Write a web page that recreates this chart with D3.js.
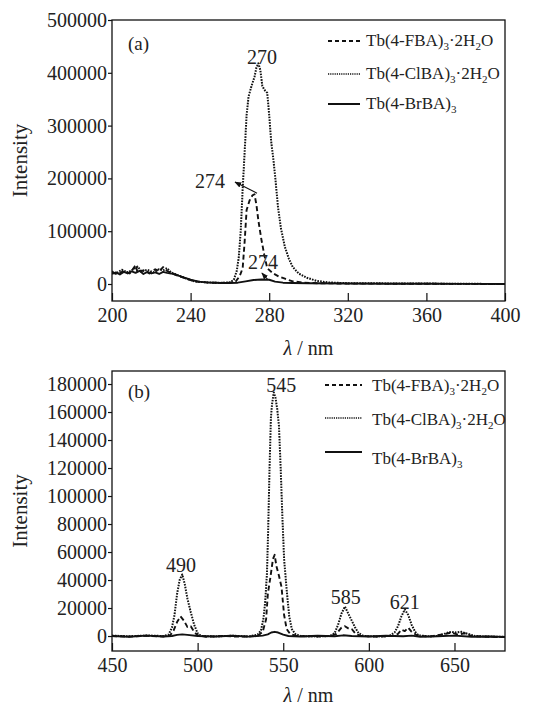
<!DOCTYPE html>
<html>
<head>
<meta charset="UTF-8">
<script src="https://d3js.org/d3.v7.min.js"></script>
<style>
  body { margin: 0; background: #fff; }
  svg text { font-family: "Liberation Serif", "Times New Roman", serif; fill: #222; }
</style>
</head>
<body>
<svg id="chart" width="535" height="706"></svg>
<script>
// ---------- data ----------
// panel (a): excitation spectra, [wavelength nm, intensity]
const aFBA = [[200,22000],[203,18000],[206,25000],[209,20000],[211,30000],[212,36000],[213,22000],[216,26000],[219,20000],[222,28000],[224,24000],[226,32000],[228,25000],[230,21000],[234,15000],[238,10000],[242,5000],[248,3000],[255,2000],[260,2500],[263,5000],[265,15000],[266.5,30000],[267.5,80000],[268.5,140000],[270,158000],[271.5,168000],[272.5,170000],[273.5,150000],[274.5,120000],[276,85000],[277.5,55000],[279,30000],[282,20000],[285,14000],[288,10000],[292,5000],[298,2500],[305,1500],[320,800],[360,400],[400,0]];
const aClBA = [[200,24000],[202,20000],[205,27000],[208,22000],[211,28000],[213,33000],[215,24000],[218,27000],[221,22000],[224,28000],[226,26000],[228,30000],[230,22000],[234,16000],[238,10000],[242,5000],[248,3000],[255,2000],[260,3000],[262,8000],[263.5,25000],[264.5,50000],[265.5,100000],[266.5,180000],[267.5,250000],[268.5,320000],[269.5,355000],[271,375000],[272.5,392000],[273.5,410000],[274.5,418000],[275.5,405000],[276.5,375000],[277.5,368000],[279,362000],[280,320000],[281,270000],[282,240000],[283,205000],[284.5,145000],[286,105000],[288,70000],[290,48000],[292,32000],[295,20000],[299,12000],[304,6000],[310,3000],[320,1500],[360,800],[400,0]];
const aBrBA = [[200,19000],[202,22000],[204,18000],[206,23000],[208,20000],[210,24000],[212,21000],[214,25000],[216,19000],[218,23000],[220,20000],[222,22000],[224,19000],[226,23000],[228,21000],[230,20000],[233,17000],[236,13000],[240,8000],[244,4500],[248,3000],[252,2500],[256,2000],[260,2000],[264,2500],[268,5000],[272,7500],[276,8500],[280,8000],[283,4500],[287,2500],[292,2000],[300,1500],[320,1000],[340,500],[360,500],[380,300],[400,0]];

// panel (b): emission spectra
const bFBA = [[450,0],[460,-400],[470,200],[480,-300],[484,500],[486,4000],[488,10000],[490,14000],[492,11000],[494,6500],[496,7000],[498,3000],[500,500],[505,-500],[515,0],[525,-500],[535,0],[538,3000],[540,12000],[541,30000],[542.5,42000],[544,55000],[545,58000],[546,50000],[547.5,43000],[549,35000],[550.5,15000],[552,5000],[554,1500],[558,0],[570,-300],[578,0],[581,1500],[584,6000],[586,7000],[588,5500],[590,5000],[592,2000],[595,0],[605,-400],[614,0],[617,1500],[619,4500],[621,3500],[623,6000],[625,3000],[628,500],[635,-500],[645,1500],[648,2500],[652,1000],[656,2000],[660,0],[670,-500],[680,-800]];
const bClBA = [[450,300],[460,-200],[470,400],[480,0],[483,1000],[485,6000],[486.5,15000],[488,30000],[489.5,40000],[491,44000],[492.5,37000],[494,27000],[496,17000],[498,8000],[500,2000],[502,0],[510,-300],[520,200],[530,-300],[535,1000],[537,4000],[538.5,13000],[539.5,25000],[540.5,45000],[541.2,76000],[542,120000],[542.8,156000],[543.5,166000],[544.5,174000],[545.5,170000],[546.5,162000],[547.5,150000],[548.5,120000],[549.5,85000],[550.5,55000],[552,33000],[553.5,14000],[555,5000],[557,1500],[560,0],[570,-300],[577,0],[580,2000],[582,8000],[584,16000],[586,21000],[588,16000],[590,11000],[592,6000],[594,2000],[597,0],[605,-300],[612,0],[615,2500],[617,7000],[619,14000],[621,19000],[623,15000],[625,8000],[627,3000],[629,500],[635,-200],[640,0],[645,2000],[648,3000],[651,2500],[654,3000],[658,1500],[662,0],[670,-400],[680,-500]];
const bBrBA = [[450,0],[460,-500],[470,300],[480,-300],[485,0],[488,800],[491,1200],[494,800],[500,0],[510,-300],[520,200],[530,-400],[538,300],[541,1200],[543,2500],[545,3000],[547,2500],[550,1000],[553,0],[560,-300],[570,200],[580,-200],[585,500],[590,0],[600,-300],[610,200],[620,-200],[625,300],[630,-500],[640,-200],[650,300],[660,-500],[670,-300],[680,-600]];

const aXTicks = [200, 240, 280, 320, 360, 400];
const aYTicks = [0, 100000, 200000, 300000, 400000, 500000];
const bXTicks = [450, 500, 550, 600, 650];
const bYTicks = [0, 20000, 40000, 60000, 80000, 100000, 120000, 140000, 160000, 180000];

// legend names split into [text, isSubscript]
const legendNames = [
  [["Tb(4-FBA)", false], ["3", true], ["·2H", false], ["2", true], ["O", false]],
  [["Tb(4-ClBA)", false], ["3", true], ["·2H", false], ["2", true], ["O", false]],
  [["Tb(4-BrBA)", false], ["3", true]]
];

// peak labels [wavelength, intensity, text]
const aPeakLabels = [[276.3, 430000, "270"], [249.9, 195000, "274"], [276.8, 41700, "274"]];
const bPeakLabels = [[548.9, 179300, "545"], [490.3, 50700, "490"], [586.5, 27900, "585"], [621, 24300, "621"]];
// arrows [fromWl, fromVal, toWl, toVal]
const aArrows = [[273.8, 172000, 262.6, 193000], [279.4, 7600, 276.3, 20800]];

// ---------- drawing ----------
const svg = d3.select("#chart");
svg.append("rect").attr("width", 535).attr("height", 706).attr("fill", "#fff");

svg.append("defs").append("marker")
  .attr("id", "arr")
  .attr("viewBox", "0 0 10 10")
  .attr("refX", 9).attr("refY", 5)
  .attr("markerWidth", 7).attr("markerHeight", 7)
  .attr("markerUnits", "userSpaceOnUse")
  .attr("orient", "auto")
  .append("path").attr("d", "M0,1 L10,5 L0,9 z").attr("fill", "#111");

const styles = [
  { dash: "5,3", width: 1.9 },     // FBA dashed
  { dash: "1.6,1.2", width: 2 },   // ClBA dotted
  { dash: null, width: 1.9 }       // BrBA solid
];

function drawPanel(cfg) {
  const x = d3.scaleLinear(cfg.xDomain, [cfg.left, cfg.right]);
  const y = d3.scaleLinear(cfg.yDomain, [cfg.bottom, cfg.top]);
  const g = svg.append("g");

  const clipId = "clip" + cfg.tag;
  g.append("clipPath").attr("id", clipId)
    .append("rect")
    .attr("x", cfg.left).attr("y", cfg.top)
    .attr("width", cfg.right - cfg.left).attr("height", cfg.bottom - cfg.top);

  // y axis, ticks outward
  const yAx = g.append("g")
    .attr("transform", `translate(${cfg.left},0)`)
    .call(d3.axisLeft(y).tickValues(cfg.yTicks).tickSize(4).tickPadding(1).tickFormat(d3.format("d")));
  yAx.select(".domain").remove();
  yAx.attr("font-family", null).attr("font-size", 20);
  yAx.selectAll("line").attr("stroke", "#111").attr("stroke-width", 1.2);

  // x axis, ticks inward
  const xAx = g.append("g")
    .attr("transform", `translate(0,${cfg.bottom})`)
    .call(d3.axisBottom(x).tickValues(cfg.xTicks).tickSize(-8).tickPadding(7));
  xAx.select(".domain").remove();
  xAx.attr("font-family", null).attr("font-size", 20);
  xAx.selectAll("line").attr("stroke", "#111").attr("stroke-width", 1.2);

  // frame
  g.append("rect")
    .attr("x", cfg.left).attr("y", cfg.top)
    .attr("width", cfg.right - cfg.left).attr("height", cfg.bottom - cfg.top)
    .attr("fill", "none").attr("stroke", "#111").attr("stroke-width", 1.3);

  // spectra
  const line = d3.line().x(d => x(d[0])).y(d => y(d[1]));
  g.append("g").attr("clip-path", `url(#${clipId})`)
    .selectAll("path").data(cfg.series).join("path")
    .attr("d", d => line(d))
    .attr("fill", "none")
    .attr("stroke", "#111")
    .attr("stroke-width", (d, i) => styles[i].width)
    .attr("stroke-dasharray", (d, i) => styles[i].dash)
    .attr("stroke-linejoin", "round");

  // axis titles
  g.append("text")
    .attr("transform", `translate(${cfg.yLabelX},${(cfg.top + cfg.bottom) / 2}) rotate(-90)`)
    .attr("text-anchor", "middle")
    .attr("font-size", 21)
    .text("Intensity");

  const xl = g.append("text")
    .attr("x", (cfg.left + cfg.right) / 2)
    .attr("y", cfg.xLabelY)
    .attr("text-anchor", "middle")
    .attr("font-size", 20);
  xl.append("tspan").attr("font-style", "italic").text("λ");
  xl.append("tspan").text(" / nm");

  // panel tag
  g.append("text")
    .attr("x", cfg.left + 16).attr("y", cfg.tagY)
    .attr("dy", "0.35em")
    .attr("font-size", 19)
    .text(cfg.tag === "a" ? "(a)" : "(b)");

  // peak labels
  g.selectAll(".peak").data(cfg.peaks).join("text")
    .attr("class", "peak")
    .attr("x", d => x(d[0])).attr("y", d => y(d[1]))
    .attr("dy", "0.35em")
    .attr("text-anchor", "middle")
    .attr("font-size", 20)
    .text(d => d[2]);

  g.selectAll(".arrow").data(cfg.arrows).join("line")
    .attr("class", "arrow")
    .attr("x1", d => x(d[0])).attr("y1", d => y(d[1]))
    .attr("x2", d => x(d[2])).attr("y2", d => y(d[3]))
    .attr("stroke", "#111").attr("stroke-width", 1.1)
    .attr("marker-end", "url(#arr)");

  // legend
  const leg = g.selectAll(".leg").data(legendNames).join("g").attr("class", "leg");
  leg.append("line")
    .attr("x1", cfg.legX1).attr("x2", cfg.legX2)
    .attr("y1", (d, i) => cfg.legLineY[i]).attr("y2", (d, i) => cfg.legLineY[i])
    .attr("stroke", "#111")
    .attr("stroke-width", (d, i) => i === 1 ? 1.3 : 2)
    .attr("stroke-dasharray", (d, i) => i === 0 ? "4,3" : (i === 1 ? "1.2,1" : null));
  const lt = leg.append("text")
    .attr("x", cfg.legTextX)
    .attr("y", (d, i) => cfg.legTextY[i])
    .attr("font-size", 17);
  lt.each(function(parts) {
    const t = d3.select(this);
    let shift = 0;
    parts.forEach(p => {
      const target = p[1] ? 4 : 0;
      t.append("tspan")
        .attr("font-size", p[1] ? 11 : null)
        .attr("dy", target - shift)
        .text(p[0]);
      shift = target;
    });
  });
}

drawPanel({
  tag: "a", left: 112, right: 505, top: 20, bottom: 301,
  xDomain: [200, 400], yDomain: [-32200, 500000],
  xTicks: aXTicks, yTicks: aYTicks,
  series: [aFBA, aClBA, aBrBA],
  peaks: aPeakLabels, arrows: aArrows,
  yLabelX: 27, xLabelY: 355, tagY: 43,
  legX1: 328, legX2: 360, legTextX: 366,
  legLineY: [41, 74, 104], legTextY: [46, 79, 109]
});

drawPanel({
  tag: "b", left: 112, right: 505, top: 371, bottom: 651,
  xDomain: [450, 679.5], yDomain: [-10700, 189300],
  xTicks: bXTicks, yTicks: bYTicks,
  series: [bFBA, bClBA, bBrBA],
  peaks: bPeakLabels, arrows: [],
  yLabelX: 27, xLabelY: 702, tagY: 391,
  legX1: 325, legX2: 362, legTextX: 372,
  legLineY: [385, 418, 452], legTextY: [391, 425, 464]
});
</script>
</body>
</html>
